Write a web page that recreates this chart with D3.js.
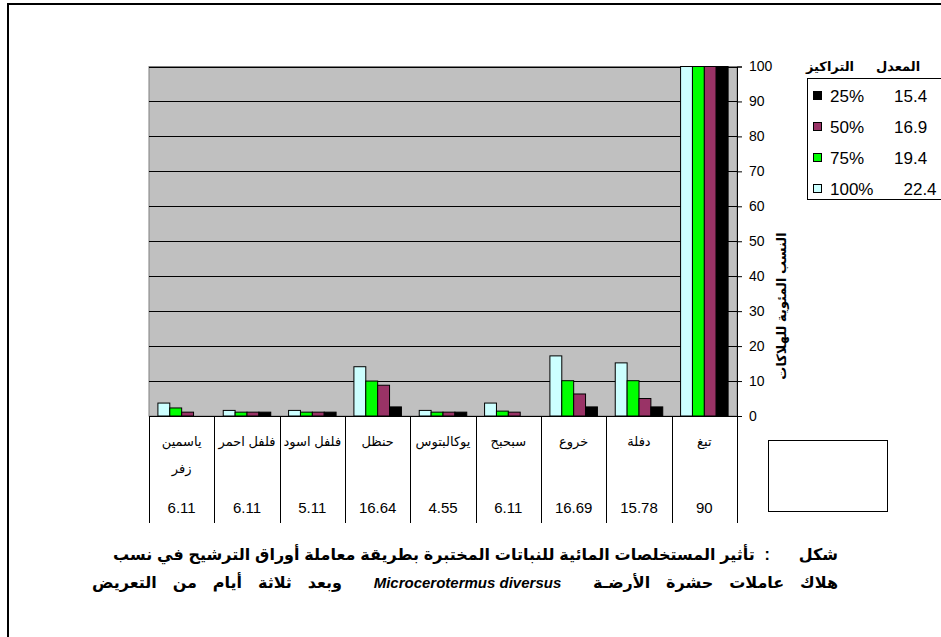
<!DOCTYPE html>
<html><head><meta charset="utf-8">
<script src="https://cdn.jsdelivr.net/npm/d3@7"></script>
<style>
body{margin:0;background:#fff;}
svg text{font-family:"Liberation Sans",Arial,"DejaVu Sans",sans-serif;}
</style></head>
<body><svg id="c" width="941" height="637"></svg>
<script>
const categories = ["ياسمين\nزفر","فلفل احمر","فلفل اسود","حنظل","يوكالبتوس","سبحبح","خروع","دفلة","تبغ"];
const tableValues = ["6.11","6.11","5.11","16.64","4.55","6.11","16.69","15.78","90"];
const seriesNames = ["100%","75%","50%","25%"];
const seriesColors = ["#CCFFFF","#00FF00","#993366","#000000"];
const values100 = [3.7,1.6,1.6,14.1,1.6,3.7,17.2,15.2,100];
const values75  = [2.3,1.1,1.1,10.0,1.1,1.4,10.1,10.1,100];
const values50  = [1.1,1.1,1.1,8.8,1.1,1.1,6.3,5.0,100];
const values25  = [0,1.1,1.1,2.6,1.1,0,2.6,2.6,100];
const legendOrder = ["25%","50%","75%","100%"];
const legendAverages = ["15.4","16.9","19.4","22.4"];
const yTicks = [0,10,20,30,40,50,60,70,80,90,100];
const legendHeaderConc = "التراكيز";
const legendHeaderAvg = "المعدل";
const yTitle = "النسب المئوية للهلاكات";
const captionLine1 = "شكل      :  تأثير المستخلصات المائية للنباتات المختبرة بطريقة معاملة أوراق الترشيح في نسب";
const captionLine2a = "هلاك عاملات حشرة الأرضـة  ";
const captionLatin = "Microcerotermus diversus";
const captionLine2b = "  وبعد ثلاثة أيام من التعريض";

const seriesValues = [values100, values75, values50, values25];
const svg = d3.select("#c");

// outer frame
svg.append("rect").attr("x",8).attr("y",4).attr("width",1000).attr("height",1000)
  .attr("fill","none").attr("stroke","#000").attr("stroke-width",2);

const L=149, R=737, T=66.5, B=416;
const x0 = d3.scaleBand().domain(d3.range(categories.length)).range([L,R]).paddingInner(0).paddingOuter(0);
const x1 = d3.scaleBand().domain(d3.range(seriesNames.length)).range([0,x0.bandwidth()]).paddingInner(0).paddingOuter(0.75);
const y = d3.scaleLinear().domain([0,100]).range([B,T]);

// plot area
svg.append("rect").attr("x",L).attr("y",T).attr("width",R-L).attr("height",B-T)
  .attr("fill","#C0C0C0").attr("stroke","#808080").attr("stroke-width",1);
// gridlines
svg.append("g").selectAll("line").data(yTicks.filter(d=>d>0)).join("line")
  .attr("x1",L).attr("x2",R).attr("y1",d=>Math.round(y(d))+0.5).attr("y2",d=>Math.round(y(d))+0.5)
  .attr("stroke","#000").attr("stroke-width",1);

// bars
const g = svg.append("g");
seriesValues.forEach((vals,si)=>{
  g.append("g").selectAll("rect").data(vals).join("rect")
    .attr("x",(d,i)=>x0(i)+x1(si))
    .attr("y",d=>y(d))
    .attr("width",x1.bandwidth())
    .attr("height",d=>B-y(d))
    .attr("fill",seriesColors[si])
    .attr("stroke",d=>d>0?"#000":"none").attr("stroke-width",1);
});

// y axis on right
const ya = svg.append("g").attr("transform",`translate(${R},0)`)
  .call(d3.axisRight(y).tickValues(yTicks).tickSize(5).tickPadding(7).tickFormat(d3.format("d")));
ya.select(".domain").attr("stroke","#000");
ya.selectAll("line").attr("stroke","#000");
ya.selectAll("text").attr("font-size",14).attr("fill","#000").style("font-family",'"Liberation Sans",Arial,sans-serif');

// x axis line
svg.append("line").attr("x1",L).attr("x2",R).attr("y1",B+0.5).attr("y2",B+0.5).attr("stroke","#000");
// table vertical lines
const bounds = d3.range(categories.length+1).map(i=> i<categories.length ? x0(i) : R);
svg.append("g").selectAll("line").data(bounds).join("line")
  .attr("x1",d=>Math.round(d)+0.5).attr("x2",d=>Math.round(d)+0.5).attr("y1",B).attr("y2",523)
  .attr("stroke","#000");

// category labels
const cl = svg.append("g");
categories.forEach((c,i)=>{
  const lines = c.split("\n");
  const t = cl.append("text").attr("x",x0(i)+x0.bandwidth()/2).attr("y",446)
    .attr("text-anchor","middle").attr("font-size",13).attr("direction","rtl");
  lines.forEach((ln,k)=>{
    t.append("tspan").attr("x",x0(i)+x0.bandwidth()/2).attr("dy",k===0?0:27).text(ln);
  });
});
// table values
svg.append("g").selectAll("text").data(tableValues).join("text")
  .attr("x",(d,i)=>x0(i)+x0.bandwidth()/2).attr("y",513)
  .attr("text-anchor","middle").attr("font-size",15).text(d=>d);

// empty box
svg.append("rect").attr("x",768.5).attr("y",440.5).attr("width",119).attr("height",71)
  .attr("fill","none").attr("stroke","#000");

// y title
svg.append("text").attr("transform","translate(786,306) rotate(-90)")
  .attr("text-anchor","middle").attr("font-size",13).attr("font-weight","bold")
  .attr("direction","rtl").text(yTitle);

// legend
svg.append("text").attr("x",830).attr("y",71).attr("text-anchor","middle")
  .attr("font-size",13).attr("font-weight","bold").text(legendHeaderConc);
svg.append("text").attr("x",898).attr("y",71).attr("text-anchor","middle")
  .attr("font-size",13).attr("font-weight","bold").text(legendHeaderAvg);
svg.append("rect").attr("x",807.5).attr("y",78.5).attr("width",200).attr("height",121)
  .attr("fill","#fff").attr("stroke","#000");
legendOrder.forEach((s,k)=>{
  const si = seriesNames.indexOf(s);
  const cy = 96 + k*31;
  svg.append("rect").attr("x",813.5).attr("y",cy-4.5).attr("width",8).attr("height",8)
    .attr("fill",seriesColors[si]).attr("stroke","#000");
  const t = svg.append("text").attr("x",830).attr("y",cy+6).attr("font-size",17);
  t.append("tspan").text(s);
  t.append("tspan").attr("dx",30).text(legendAverages[k]);
});

// caption (justified by word spacing on Arabic runs)
const c1 = svg.append("text").attr("x",838).attr("y",560).attr("direction","rtl").attr("text-anchor","start")
  .attr("font-size",16).attr("font-weight","bold").style("white-space","pre").text(captionLine1);
{
  const nat = c1.node().getComputedTextLength();
  const sp = (captionLine1.match(/ /g)||[]).length;
  if(725>nat) c1.style("word-spacing", ((725-nat)/sp)+"px");
}
const c2 = svg.append("text").attr("x",838).attr("y",588).attr("direction","rtl").attr("text-anchor","start")
  .attr("font-size",16).attr("font-weight","bold").style("white-space","pre");
const ta = c2.append("tspan").text(captionLine2a);
c2.append("tspan").attr("font-style","italic").attr("font-size",15).style("word-spacing","0px").text(captionLatin);
const tb = c2.append("tspan").text(captionLine2b);
{
  const nat = c2.node().getComputedTextLength();
  const sp = (captionLine2a+captionLine2b).match(/ /g).length;
  if(746>nat){
    const ws = ((746-nat)/sp)+"px";
    ta.style("word-spacing", ws); tb.style("word-spacing", ws);
  }
}
</script></body></html>
